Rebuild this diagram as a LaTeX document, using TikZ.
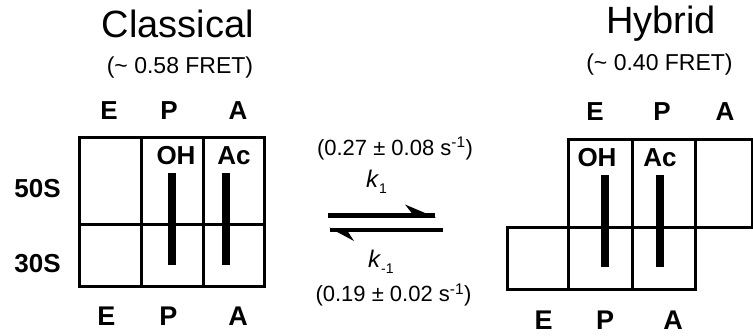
\documentclass[tikz,border=0pt]{standalone}
\usepackage{fontspec}
\setmainfont{Liberation Sans}
\begin{document}
\begin{tikzpicture}[x=1pt,y=-1pt,
  title/.style={font=\fontsize{38}{42}\selectfont, anchor=base, inner sep=0pt},
  fret/.style={font=\fontsize{23}{26}\selectfont, anchor=base, inner sep=0pt},
  sitetop/.style={font=\bfseries\fontsize{26}{28}\selectfont, anchor=base, inner sep=0pt},
  sitebot/.style={font=\bfseries\fontsize{27}{29}\selectfont, anchor=base, inner sep=0pt},
  trna/.style={font=\bfseries\fontsize{26}{28}\selectfont, anchor=base, inner sep=0pt},
  subunit/.style={font=\bfseries\fontsize{26}{28}\selectfont, anchor=base, inner sep=0pt},
  rate/.style={font=\fontsize{22}{24}\selectfont, anchor=base, inner sep=0pt},
  klabel/.style={font=\fontsize{24}{26}\selectfont, anchor=base west, inner sep=0pt},
  gridline/.style={line width=3pt},
  trnabar/.style={line width=8pt},
  harpline/.style={line width=4.3pt}]
\useasboundingbox (0,0) rectangle (753,335);

% ---------- Classical ----------
\node[title] (tclass) at (178,37.5) {Classical};
\node[fret] (fclass) at (180,73.3) {(\textasciitilde\ 0.58 FRET)};

\node[sitetop] (cE) at (109,119) {E};
\node[sitetop] (cP) at (169,119) {P};
\node[sitetop] (cA) at (238,119) {A};

\draw[gridline] (79,137.5) rectangle (264,286);
\draw[gridline] (79,224) -- (264,224);
\draw[gridline] (141,137.5) -- (141,286);
\draw[gridline] (203,137.5) -- (203,286);

\node[trna] (cOH) at (176,164) {OH};
\node[trna] (cAc) at (234,164) {Ac};
\draw[trnabar] (172,173) -- (172,265);
\draw[trnabar] (226,173) -- (226,265);

\node[subunit] (s50) at (37.5,197) {50S};
\node[subunit] (s30) at (37.5,272) {30S};

\node[sitebot] (cbE) at (106.5,325) {E};
\node[sitebot] (cbP) at (168.5,325) {P};
\node[sitebot] (cbA) at (238,325) {A};

% ---------- Equilibrium ----------
\node[rate] (rf) at (395,155) {(0.27 ± 0.08 s\textsuperscript{-1})};
\node[klabel] (kf) at (366,187) {\textit{k}\raisebox{-6pt}{\fontsize{14}{14}\selectfont 1}};
\coordinate (fs) at (328,215.5);
\coordinate (fe) at (435,215.5);
\draw[harpline] (fs) -- (fe);
\fill (436,217.6) -- (405,204.5) -- (412,213.4) -- cycle;

\coordinate (bs) at (443,229.7);
\coordinate (be) at (330,229.7);
\draw[harpline] (bs) -- (be);
\fill (329,227.6) -- (354,241) -- (348,231.8) -- cycle;

\node[klabel] (kb) at (368,267.5) {\textit{k}\raisebox{-6pt}{\fontsize{14}{14}\selectfont -1}};
\node[rate] (rb) at (393.5,301.7) {(0.19 ± 0.02 s\textsuperscript{-1})};

% ---------- Hybrid ----------
\node[title] (thyb) at (661,33.5) {Hybrid};
\node[fret] (fhyb) at (659.5,70.7) {(\textasciitilde\ 0.40 FRET)};

\node[sitetop] (hE) at (595,120.5) {E};
\node[sitetop] (hP) at (662,120.5) {P};
\node[sitetop] (hA) at (725,120.5) {A};

\draw[gridline] (568,139) rectangle (752,227);
\draw[gridline] (507,227) rectangle (695,289);
\draw[gridline] (568,139) -- (568,289);
\draw[gridline] (632,139) -- (632,289);
\draw[gridline] (695,139) -- (695,289);

\node[trna] (hOH) at (597,166) {OH};
\node[trna] (hAc) at (660,166) {Ac};
\draw[trnabar] (605,175) -- (605,267);
\draw[trnabar] (660,175) -- (660,267);

\node[sitebot] (hbE) at (543.5,329) {E};
\node[sitebot] (hbP) at (605,329) {P};
\node[sitebot] (hbA) at (673,329) {A};
\end{tikzpicture}
\end{document}
